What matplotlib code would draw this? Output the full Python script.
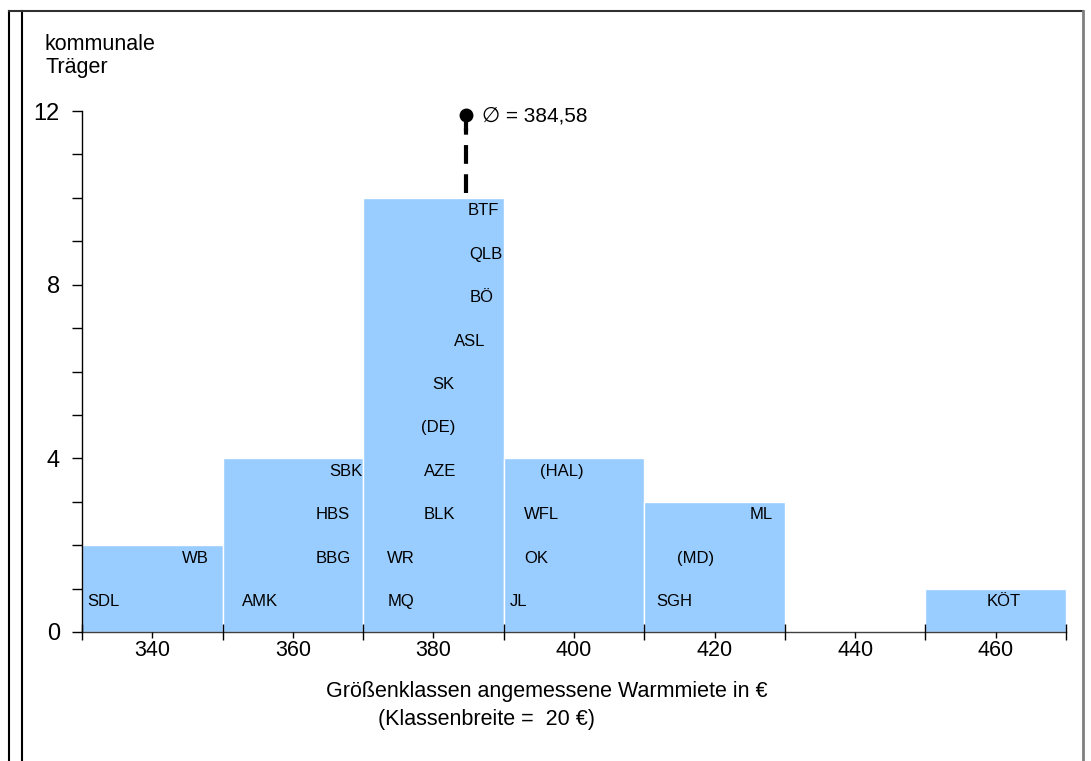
import numpy as np
import matplotlib
matplotlib.use("Agg")
from matplotlib import pyplot as plt
from matplotlib.lines import Line2D

plt.rcParams['font.family'] = ['Liberation Sans', 'DejaVu Sans']

# Klassenmitten und Anzahl kommunaler Traeger je Klasse
klassen = [340, 360, 380, 400, 420, 440, 460]
anzahl = [2, 4, 10, 4, 3, 0, 1]
breite = 20
mittelwert = 384.58

# Kreiskuerzel in den Saeulen: (Name, x-Wert, Hoehe)
namen = ['SDL', 'WB', 'AMK', 'BBG', 'HBS', 'SBK',
         'MQ', 'WR', 'BLK', 'AZE', '(DE)', 'SK', 'ASL', 'BÖ', 'QLB', 'BTF',
         'JL', 'OK', 'WFL', '(HAL)', 'SGH', '(MD)', 'ML', 'KÖT']
namen_x = [333.0, 346.1, 355.3, 365.7, 365.7, 367.6,
           375.4, 375.4, 380.9, 380.9, 380.7, 381.4, 385.1, 386.9, 387.4, 387.1,
           392.1, 394.7, 395.4, 398.3, 414.3, 417.3, 426.6, 461.1]
namen_y = [0.7, 1.7, 0.7, 1.7, 2.7, 3.7,
           0.7, 1.7, 2.7, 3.7, 4.7, 5.7, 6.7, 7.7, 8.7, 9.7,
           0.7, 1.7, 2.7, 3.7, 0.7, 1.7, 2.7, 0.7]

W, H = 1091, 761
fig = plt.figure(figsize=(W / 100, H / 100), dpi=100)
ax = fig.add_axes([82 / W, (H - 632) / H, (1066 - 82) / W, (632 - 111) / H])

ax.bar(klassen, anzahl, width=breite, color='#99CCFF', edgecolor='white',
       linewidth=1, zorder=1)

for n, x, y in zip(namen, namen_x, namen_y):
    ax.text(x, y, n, ha='center', va='center', fontsize=12, zorder=3)

# Mittelwert
ax.plot([mittelwert, mittelwert], [10.1, 11.6], color='black', lw=3,
        dashes=(4.5, 2.5), solid_capstyle='butt', zorder=4)
ax.plot([mittelwert, mittelwert], [11.55, 11.9], color='black', lw=3,
        solid_capstyle='butt', zorder=4)
ax.plot([mittelwert], [11.9], marker='o', ms=9, color='black', zorder=5,
        clip_on=False)
ax.text(mittelwert + 2.4, 11.88, '∅ = 384,58', fontsize=15, va='center', ha='left')

ax.set_xlim(330, 470)
ax.set_ylim(0, 12)

kanten = np.arange(330, 471, breite)
ax.set_xticks(kanten)
ax.set_xticklabels([])
ax.set_xticks(klassen, minor=True)
ax.set_xticklabels([str(k) for k in klassen], minor=True, fontsize=15.5)
ax.tick_params(axis='x', which='major', direction='inout', length=12, width=1)
ax.tick_params(axis='x', which='minor', direction='out', length=4, width=1, pad=2)

ax.set_yticks([0, 4, 8, 12])
ax.set_yticklabels(['0', '4', '8', '12'], fontsize=17)
ax.set_yticks(np.arange(0, 13, 1), minor=True)
ax.tick_params(axis='y', which='both', direction='out', length=7, width=1, pad=9)

for s in ['top', 'right']:
    ax.spines[s].set_visible(False)
for s in ['left', 'bottom']:
    ax.spines[s].set_linewidth(1)
ax.spines['bottom'].set_color('#404040')
ax.set_axisbelow(False)

fig.text(45 / W, 1 - 44 / H, 'kommunale', fontsize=15.5, va='center')
fig.text(45 / W, 1 - 68 / H, 'Träger', fontsize=15.5, va='center')
fig.text(547 / W, 1 - 691 / H, 'Größenklassen angemessene Warmmiete in €',
         fontsize=15.5, ha='center', va='center')
fig.text(486 / W, 1 - 720 / H, '(Klassenbreite =  20 €)',
         fontsize=15.5, ha='center', va='center')

# Rahmen
def px_line(xs, ys, color='black', lw=1.5):
    fig.add_artist(Line2D([x / W for x in xs], [1 - y / H for y in ys],
                          color=color, lw=lw))

px_line([9, 9], [11, H], lw=1.5)
px_line([22, 22], [11, H], lw=1.5)
px_line([9, 1083], [11, 11], color='#303030', lw=1.5)
px_line([1083, 1083], [11, H], color='#808080', lw=2)

fig.savefig('out.png', dpi=100)
